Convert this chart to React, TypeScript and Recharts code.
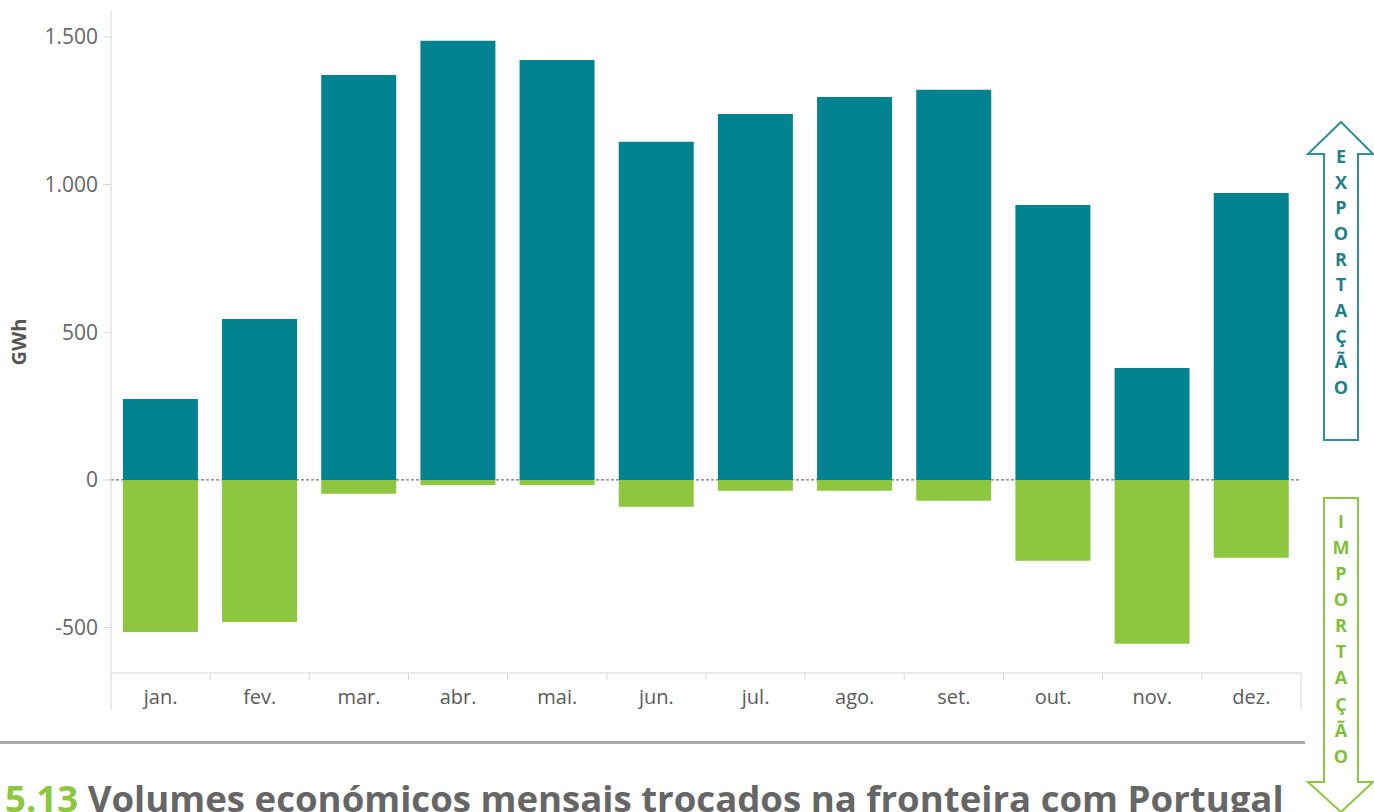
import React from 'react';
import { BarChart, Bar, XAxis, YAxis, CartesianGrid } from 'recharts';

const months = ['jan.', 'fev.', 'mar.', 'abr.', 'mai.', 'jun.', 'jul.', 'ago.', 'set.', 'out.', 'nov.', 'dez.'];
const exportValues = [274, 545, 1371, 1487, 1422, 1145, 1239, 1297, 1321, 931, 379, 972];
const importValues = [-515, -481, -47, -17, -17, -91, -37, -37, -71, -274, -555, -264];
const yTicks = [-500, 0, 500, 1000, 1500];
const exportLetters = ['E', 'X', 'P', 'O', 'R', 'T', 'A', 'Ç', 'Ã', 'O'];
const importLetters = ['I', 'M', 'P', 'O', 'R', 'T', 'A', 'Ç', 'Ã', 'O'];

const data = months.map((m, i) => ({ month: m, exp: exportValues[i], imp: importValues[i] }));

const CHART_W = 1310;
const CHART_H = 720;
const MARGIN = { top: 11, right: 9, bottom: 10, left: 0 };
const Y_AXIS_W = 111;
const X_AXIS_H = 37;
const BAND_HALF = (CHART_W - MARGIN.left - MARGIN.right - Y_AXIS_W) / months.length / 2;

const FRAME = '#d6d6d6';
const FONT = '"Open Sans", sans-serif';

const fmt = (v: number) => v.toLocaleString('de-DE');

const MonthTick = (props: any) => {
  const { x, y, payload, index } = props;
  const last = index === months.length - 1;
  return (
    <g>
      <line x1={x - BAND_HALF} x2={x - BAND_HALF} y1={y} y2={y + (index === 0 ? X_AXIS_H : 7)} stroke={FRAME} />
      {last && <line x1={x + BAND_HALF} x2={x + BAND_HALF} y1={y} y2={y + X_AXIS_H} stroke={FRAME} />}
      <text x={x} y={y + 31} textAnchor="middle" fill="#5a5a5a" fontSize={20} fontFamily={FONT}>
        {payload.value}
      </text>
    </g>
  );
};

const YLabel = (props: any) => {
  const { viewBox } = props;
  const cx = 21;
  const cy = viewBox.y + viewBox.height / 2;
  return (
    <text x={cx} y={cy} transform={`rotate(-90, ${cx}, ${cy})`} textAnchor="middle" dominantBaseline="middle"
      fill="#555" fontSize={20} fontWeight="bold" fontFamily={FONT}>
      GWh
    </text>
  );
};

export default function App() {
  return (
    <div style={{ position: 'absolute', left: 0, top: 0, width: 1374, height: 812, overflow: 'hidden', background: '#fff' }}>
      <div style={{ position: 'absolute', left: 0, top: 0 }}>
        <BarChart width={CHART_W} height={CHART_H} data={data} margin={MARGIN} stackOffset="sign" barCategoryGap="12%">
          <CartesianGrid vertical={false} horizontalValues={[0]} stroke="#555" strokeDasharray="3 2" />
          <XAxis dataKey="month" height={X_AXIS_H} interval={0} tickSize={0} tickMargin={0} tickLine={false}
            axisLine={{ stroke: FRAME }} tick={<MonthTick />} />
          <XAxis xAxisId="top" dataKey="month" orientation="top" height={0} tick={false} tickLine={false}
            axisLine={{ stroke: FRAME }} />
          <YAxis width={Y_AXIS_W} domain={[-654, 1588]} allowDataOverflow ticks={yTicks} interval={0}
            tickFormatter={fmt} tickSize={8} tickMargin={5} axisLine={{ stroke: FRAME }} tickLine={{ stroke: FRAME }}
            tick={{ fill: '#666', fontSize: 21, fontFamily: FONT }} label={<YLabel />} />
          <YAxis yAxisId="right" orientation="right" width={0} domain={[-654, 1588]} tick={false} tickLine={false}
            axisLine={{ stroke: FRAME }} />
          <Bar dataKey="exp" stackId="s" fill="#02838f" isAnimationActive={false} />
          <Bar dataKey="imp" stackId="s" fill="#8dc63f" isAnimationActive={false} />
        </BarChart>
      </div>

      <div style={{ position: 'absolute', left: 0, top: 741, width: 1305, height: 3, background: '#ababab' }} />
      <div style={{ position: 'absolute', left: 5, top: 780, whiteSpace: 'nowrap', fontFamily: FONT, fontSize: 36.6,
        fontWeight: 'bold', lineHeight: 1, color: '#666' }}>
        <span style={{ color: '#8dc63f' }}>5.13</span> Volumes económicos mensais trocados na fronteira com Portugal
      </div>

      <svg width={1374} height={812} style={{ position: 'absolute', left: 0, top: 0 }}>
        <polygon points="1341,122 1373,154 1358,154 1358,440 1324,440 1324,154 1308,154"
          fill="#fff" stroke="#2f8f9b" strokeWidth={2} />
        {exportLetters.map((l, i) => (
          <text key={'e' + i} x={1341} y={158 + i * 25.7} textAnchor="middle" dominantBaseline="middle"
            fill="#1f7f8b" fontSize={18} fontWeight="bold" fontFamily={FONT}>{l}</text>
        ))}
        <polygon points="1324,498 1358,498 1358,782 1373,782 1341,812 1308,782 1324,782"
          fill="#fff" stroke="#8dc63f" strokeWidth={2} />
        {importLetters.map((l, i) => (
          <text key={'i' + i} x={1341} y={523 + i * 26.1} textAnchor="middle" dominantBaseline="middle"
            fill="#7fbf3a" fontSize={18} fontWeight="bold" fontFamily={FONT}>{l}</text>
        ))}
      </svg>
    </div>
  );
}
